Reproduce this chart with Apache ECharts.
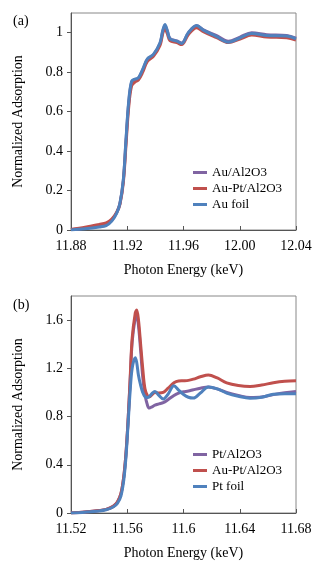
<!DOCTYPE html>
<html>
<head>
<meta charset="utf-8">
<script src="https://cdn.jsdelivr.net/npm/echarts@6/dist/echarts.min.js"></script>
<style>
html,body{margin:0;padding:0;background:#fff;}
#chart{width:321px;height:571px;}
</style>
</head>
<body>
<div id="chart"></div>
<script>
// ---------- Panel (a): Au L3-edge ----------
const energyA = [11.88, 11.89, 11.9, 11.905, 11.909, 11.9125, 11.9148, 11.9172, 11.9191, 11.921, 11.9231, 11.9255, 11.9279, 11.931, 11.9343, 11.9386, 11.9433, 11.9452, 11.9468, 11.9485, 11.9504, 11.9552, 11.9587, 11.9634, 11.9694, 11.9741, 11.9836, 11.9919, 12.0002, 12.0085, 12.0192, 12.0334, 12.04];
const auAl2O3A = [0.002, 0.009, 0.02, 0.028, 0.05, 0.088, 0.134, 0.25, 0.45, 0.64, 0.748, 0.762, 0.77, 0.81, 0.865, 0.888, 0.945, 1.005, 1.035, 1.008, 0.97, 0.958, 0.948, 0.998, 1.035, 1.015, 0.985, 0.957, 0.978, 1.0, 0.99, 0.986, 0.972];
const auPtA = [0.003, 0.014, 0.028, 0.036, 0.055, 0.09, 0.13, 0.24, 0.43, 0.62, 0.73, 0.75, 0.76, 0.8, 0.855, 0.88, 0.935, 0.995, 1.022, 0.995, 0.96, 0.95, 0.94, 0.99, 1.025, 1.005, 0.975, 0.95, 0.968, 0.988, 0.978, 0.975, 0.963];
const auFoilA = [0, 0.006, 0.015, 0.022, 0.045, 0.085, 0.136, 0.254, 0.458, 0.65, 0.754, 0.765, 0.771, 0.815, 0.868, 0.89, 0.949, 1.01, 1.042, 1.01, 0.969, 0.957, 0.946, 1.0, 1.037, 1.013, 0.98, 0.952, 0.974, 0.996, 0.986, 0.983, 0.969];
const xTicksA = [11.88, 11.92, 11.96, 12.0, 12.04];
const yTicksA = [0, 0.2, 0.4, 0.6, 0.8, 1];
const namesA = ['Au/Al2O3', 'Au-Pt/Al2O3', 'Au foil'];

// ---------- Panel (b): Pt L3-edge ----------
const energyB = [11.52, 11.53, 11.54, 11.545, 11.55, 11.553, 11.5555, 11.5575, 11.559, 11.5605, 11.562, 11.5635, 11.5657, 11.5667, 11.568, 11.5695, 11.571, 11.5726, 11.5745, 11.5757, 11.5775, 11.5797, 11.5825, 11.5856, 11.589, 11.5932, 11.5965, 11.5998, 11.6035, 11.607, 11.612, 11.6177, 11.624, 11.6307, 11.639, 11.6473, 11.6556, 11.6639, 11.672, 11.68];
const ptAl2O3B = [0, 0.008, 0.02, 0.03, 0.055, 0.09, 0.16, 0.3, 0.48, 0.75, 1.08, 1.42, 1.62, 1.64, 1.55, 1.35, 1.13, 0.98, 0.89, 0.87, 0.88, 0.895, 0.905, 0.915, 0.94, 0.975, 0.995, 1.005, 1.012, 1.022, 1.035, 1.045, 1.03, 1.0, 0.975, 0.958, 0.962, 0.982, 0.998, 1.008];
const auPtB = [0, 0.008, 0.02, 0.03, 0.055, 0.09, 0.16, 0.3, 0.48, 0.75, 1.1, 1.45, 1.66, 1.683, 1.6, 1.4, 1.2, 1.03, 0.97, 0.965, 0.98, 1.0, 0.995, 1.0, 1.035, 1.08, 1.095, 1.097, 1.1, 1.11, 1.13, 1.145, 1.12, 1.08, 1.058, 1.05, 1.062, 1.08, 1.092, 1.097];
const ptFoilB = [0, 0.007, 0.017, 0.027, 0.05, 0.08, 0.14, 0.27, 0.45, 0.72, 1.0, 1.2, 1.287, 1.25, 1.14, 1.06, 1.0, 0.965, 0.958, 0.965, 0.99, 1.008, 0.975, 0.945, 0.985, 1.056, 1.02, 0.985, 0.96, 0.953, 0.995, 1.045, 1.03, 0.995, 0.968, 0.952, 0.96, 0.985, 0.99, 0.99];
const xTicksB = [11.52, 11.56, 11.6, 11.64, 11.68];
const yTicksB = [0, 0.4, 0.8, 1.2, 1.6];
const namesB = ['Pt/Al2O3', 'Au-Pt/Al2O3', 'Pt foil'];

const colors = ['#8064A2', '#C0504D', '#4F81BD'];
const FONT = 'Liberation Serif';

function pairs(xs, ys) { return xs.map((x, i) => [x, ys[i]]); }

function xAxisCfg(grid, min, max, ticks, fmt) {
  return {
    type: 'value', gridIndex: grid, min: min, max: max, interval: 0.04,
    name: 'Photon Energy (keV)', nameLocation: 'middle', nameGap: 33,
    nameTextStyle: { fontFamily: FONT, fontSize: 14, color: '#000' },
    axisLine: { show: true, lineStyle: { color: '#555', width: 1 } },
    axisTick: { show: true, inside: true, length: 4, customValues: ticks, lineStyle: { color: '#555' } },
    axisLabel: { customValues: ticks, margin: 9, fontFamily: FONT, fontSize: 14, color: '#000', formatter: fmt },
    splitLine: { show: false }
  };
}
function yAxisCfg(grid, max, interval, ticks) {
  return {
    type: 'value', gridIndex: grid, min: 0, max: max, interval: interval,
    name: 'Normalized Adsorption', nameLocation: 'middle', nameGap: 46,
    nameTextStyle: { fontFamily: FONT, fontSize: 14, color: '#000' },
    axisLine: { show: true, lineStyle: { color: '#555', width: 1 } },
    axisTick: { show: true, inside: false, length: 4, customValues: ticks, lineStyle: { color: '#555' } },
    axisLabel: { customValues: ticks, margin: 8, fontFamily: FONT, fontSize: 14, color: '#000' },
    splitLine: { show: false }
  };
}
function line(name, xi, data, color) {
  return {
    type: 'line', name: name, xAxisIndex: xi, yAxisIndex: xi, data: data,
    smooth: 0.35, showSymbol: false, symbol: 'none',
    lineStyle: { color: color, width: 3 }, itemStyle: { color: color }, z: 2
  };
}
function legendCfg(names, left, top) {
  return {
    data: names, orient: 'vertical', left: left, top: top, itemGap: 3,
    icon: 'rect', itemWidth: 14, itemHeight: 3, padding: 0,
    textStyle: { fontFamily: FONT, fontSize: 13, color: '#000' },
    selectedMode: false
  };
}

const chart = echarts.init(document.getElementById('chart'), null, { renderer: 'canvas' });
chart.setOption({
  animation: false,
  backgroundColor: '#fff',
  textStyle: { fontFamily: FONT },
  title: [
    { text: '(a)', left: 13, top: 14, padding: 0, textStyle: { fontFamily: FONT, fontSize: 14, fontWeight: 'normal', color: '#000' } },
    { text: '(b)', left: 13, top: 298, padding: 0, textStyle: { fontFamily: FONT, fontSize: 14, fontWeight: 'normal', color: '#000' } }
  ],
  grid: [
    { left: 71, top: 13, width: 225, height: 217, show: true, borderColor: '#888', borderWidth: 1 },
    { left: 71, top: 296, width: 225, height: 217, show: true, borderColor: '#888', borderWidth: 1 }
  ],
  xAxis: [
    xAxisCfg(0, 11.88, 12.04, xTicksA, v => v.toFixed(2)),
    xAxisCfg(1, 11.52, 11.68, xTicksB, v => String(Math.round(v * 100) / 100))
  ],
  yAxis: [
    yAxisCfg(0, 1.1, 0.2, yTicksA),
    yAxisCfg(1, 1.8, 0.4, yTicksB)
  ],
  legend: [
    legendCfg(namesA, 193, 166),
    legendCfg(namesB, 193, 448)
  ],
  series: [
    line(namesA[0], 0, pairs(energyA, auAl2O3A), colors[0]),
    line(namesA[1], 0, pairs(energyA, auPtA), colors[1]),
    line(namesA[2], 0, pairs(energyA, auFoilA), colors[2]),
    line(namesB[0], 1, pairs(energyB, ptAl2O3B), colors[0]),
    line(namesB[1], 1, pairs(energyB, auPtB), colors[1]),
    line(namesB[2], 1, pairs(energyB, ptFoilB), colors[2])
  ]
});
</script>
</body>
</html>
